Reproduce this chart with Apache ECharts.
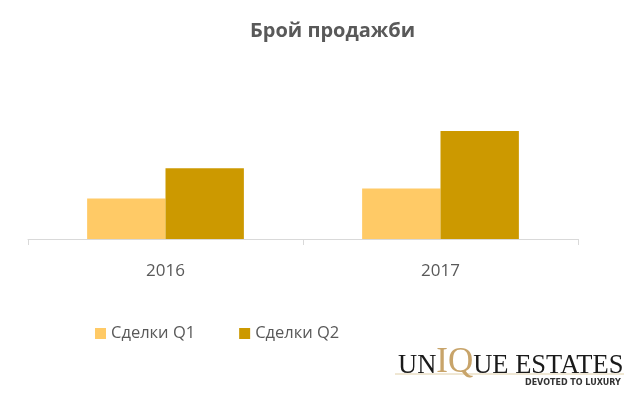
<!DOCTYPE html>
<html>
<head>
<meta charset="utf-8">
<script src="https://cdn.jsdelivr.net/npm/echarts@6/dist/echarts.min.js"></script>
<style>
    html, body { margin: 0; padding: 0; background: #fff; }
    #chart { width: 640px; height: 399px; }
</style>
</head>
<body>
<div id="chart"></div>
<script>
// данни
var years = ['2016', '2017']
var dealsQ1 = [12, 15]
var dealsQ2 = [21, 32]
var seriesNames = ['Сделки Q1', 'Сделки Q2']

var myChart = echarts.init(document.getElementById('chart'))
var option = {
    backgroundColor: '#ffffff',
    animation: false,
    title: {
        text: 'Брой продажби',
        left: 245,
        top: 16,
        textStyle: {
            fontFamily: 'Open Sans',
            fontSize: 20,
            fontWeight: 'bold',
            color: '#595959'
        }
    },
    legend: {
        left: 90,
        top: 320,
        itemWidth: 11,
        itemHeight: 11,
        itemGap: 44,
        icon: 'rect',
        textStyle: {
            fontFamily: 'Open Sans',
            fontSize: 16.5,
            color: '#595959'
        },
        data: seriesNames
    },
    grid: {
        left: 28,
        right: 62,
        top: 104,
        height: 135
    },
    xAxis: {
        type: 'category',
        data: years,
        axisLine: { lineStyle: { color: '#d9d9d9', width: 1 } },
        axisTick: { show: true, length: 6, lineStyle: { color: '#d9d9d9' } },
        axisLabel: {
            margin: 24,
            fontFamily: 'Open Sans',
            fontSize: 17,
            color: '#595959'
        }
    },
    yAxis: {
        type: 'value',
        min: 0,
        max: 40,
        show: false
    },
    series: [
        {
            name: seriesNames[0],
            type: 'bar',
            barGap: 0,
            barCategoryGap: '43%',
            itemStyle: { color: '#ffca66' },
            data: dealsQ1
        },
        {
            name: seriesNames[1],
            type: 'bar',
            barGap: 0,
            barCategoryGap: '43%',
            itemStyle: { color: '#cc9900' },
            data: dealsQ2
        }
    ],
    // лого
    graphic: [
        {
            type: 'line',
            shape: { x1: 395, y1: 374, x2: 624, y2: 374 },
            style: { stroke: '#e0cfa8', lineWidth: 1 }
        },
        {
            type: 'text',
            left: 398,
            top: 345,
            style: {
                text: '{a|UN}{b|IQ}{a|UE ESTATES}',
                rich: {
                    a: { fontFamily: 'Liberation Serif', fontSize: 26.5, fill: '#1a1a1a', verticalAlign: 'bottom' },
                    b: { fontFamily: 'Liberation Serif', fontSize: 35, fill: '#c8a46a', verticalAlign: 'bottom' }
                }
            }
        },
        {
            type: 'text',
            left: 525,
            top: 379,
            style: {
                text: 'DEVOTED TO LUXURY',
                fontFamily: 'DejaVu Sans',
                fontSize: 8,
                fontWeight: 'bold',
                fill: '#333333'
            }
        }
    ]
}
myChart.setOption(option)
</script>
</body>
</html>
